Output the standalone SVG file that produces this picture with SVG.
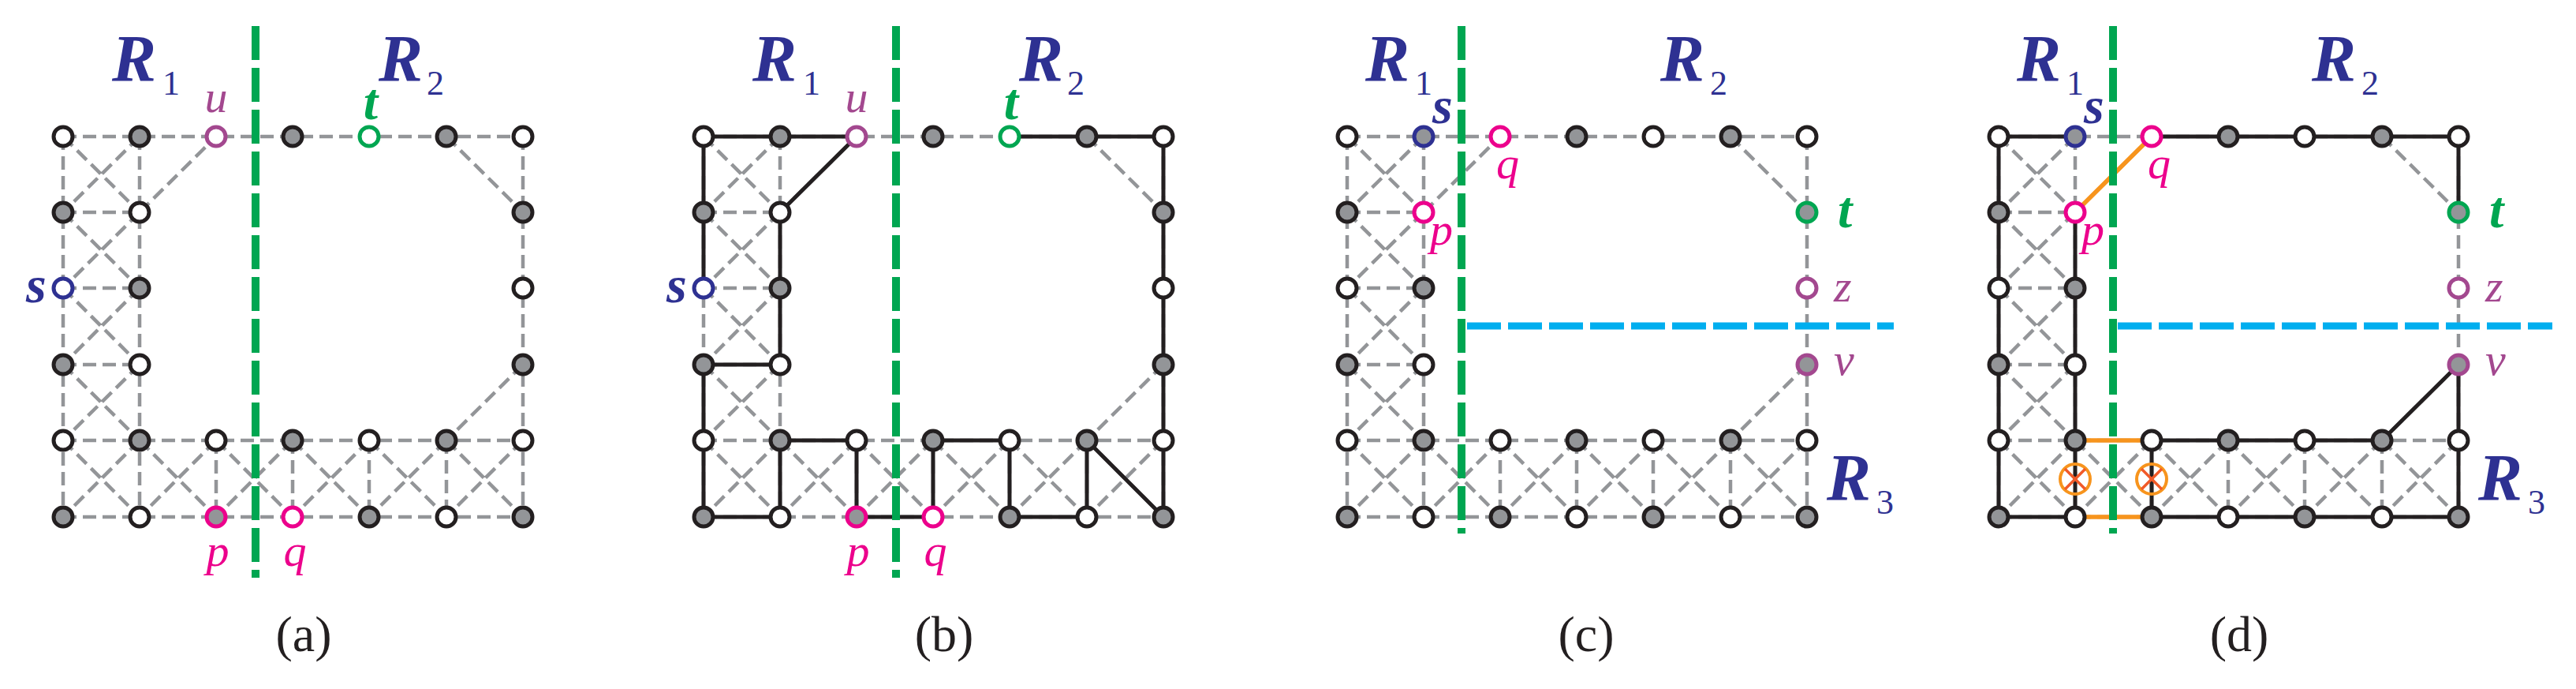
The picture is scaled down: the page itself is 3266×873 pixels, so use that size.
<svg xmlns="http://www.w3.org/2000/svg" xmlns:xlink="http://www.w3.org/1999/xlink" width="3266" height="873" viewBox="0 0 3266 873">
<style>
.gr{fill:none;stroke:#939598;stroke-width:4.5;stroke-dasharray:17 8}
.bk{fill:none;stroke:#231f20;stroke-width:5}
.or{fill:none;stroke:#f7941d;stroke-width:5.5}
.gl{stroke:#00a651;stroke-width:10;stroke-dasharray:43 10}
.bl{stroke:#00aeef;stroke-width:9;stroke-dasharray:43 9}
.w{fill:#fff;stroke:#231f20;stroke-width:5}
.g{fill:#939598;stroke:#231f20;stroke-width:5}
text{font-family:'Liberation Serif','Times New Roman','DejaVu Serif',serif}
.R{font-weight:bold;font-style:italic;font-size:84px;fill:#2e3192}
.sub{font-size:44px;fill:#2e3192}
.lab{font-style:italic;font-size:58px}
.lb{font-style:italic;font-weight:bold;font-size:66px}
.cap{font-size:64px;fill:#231f20;text-anchor:middle}
</style>
<defs>
<path id="base" class="gr" d="M80 173H663 M80 269H177 M80 365H177 M80 462H177 M80 558H663 M80 655H663 M80 173V655 M177 173V655 M663 173V655 M274 558V655 M371 558V655 M468 558V655 M566 558V655 M80 173L177 269 M177 173L80 269 M80 269L177 365 M177 269L80 365 M80 365L177 462 M177 365L80 462 M80 462L177 558 M177 462L80 558 M80 558L177 655 M177 558L80 655 M177 558L274 655 M274 558L177 655 M274 558L371 655 M371 558L274 655 M371 558L468 655 M468 558L371 655 M468 558L566 655 M566 558L468 655 M566 558L663 655 M663 558L566 655 M177 269L274 173 M566 173L663 269 M663 462L566 558"/>
<g id="otimes"><circle r="19" fill="none" stroke="#f7941d" stroke-width="4"/><path d="M-13 -13L13 13M13 -13L-13 13" stroke="#f15a29" stroke-width="3.5"/></g>
</defs>

<g id="connectors">
<g transform="translate(0,0)"><use xlink:href="#base"/></g>
<g transform="translate(812,0)"><use xlink:href="#base"/>
<path class="bk" d="M80 173H274L177 269 M468 173H663 M80 173V365 M80 462V655 M177 269V462 M80 462H177 M177 558V655 M177 558H274 M371 558H468 M80 655H177 M274 655H371 M468 655H566 M274 558V655 M371 558V655 M468 558V655 M566 558V655 M566 558L663 655 M663 173V655"/></g>
<g transform="translate(1628,0)"><use xlink:href="#base"/></g>
<g transform="translate(2454,0)"><use xlink:href="#base"/>
<path class="bk" d="M80 173H177 M274 173H663 M80 173V655 M177 269V655 M274 558V655 M274 558H566 M274 655H663 M80 655H177 M663 173V269 M663 462V655 M663 462L566 558"/>
<path class="or" d="M177 269L274 173 M177 558H274 M177 655H274"/></g>
</g>

<g id="dividers">
<line class="gl" x1="324" y1="33" x2="324" y2="732"/>
<line class="gl" x1="1136" y1="33" x2="1136" y2="732"/>
<line class="gl" x1="1853" y1="33" x2="1853" y2="676"/>
<line class="bl" x1="1860" y1="413" x2="2401" y2="413"/>
<line class="gl" x1="2679" y1="33" x2="2679" y2="676"/>
<line class="bl" x1="2685" y1="413" x2="3236" y2="413"/>
</g>

<g id="panel-a">
<circle class="w" cx="80" cy="173" r="12"/><circle class="g" cx="177" cy="173" r="12"/><circle class="w" style="stroke:#a3488f" cx="274" cy="173" r="12"/><circle class="g" cx="371" cy="173" r="12"/><circle class="w" style="stroke:#00a651" cx="468" cy="173" r="12"/><circle class="g" cx="566" cy="173" r="12"/><circle class="w" cx="663" cy="173" r="12"/>
<circle class="g" cx="80" cy="269" r="12"/><circle class="w" cx="177" cy="269" r="12"/><circle class="g" cx="663" cy="269" r="12"/>
<circle class="w" style="stroke:#2e3192" cx="80" cy="365" r="12"/><circle class="g" cx="177" cy="365" r="12"/><circle class="w" cx="663" cy="365" r="12"/>
<circle class="g" cx="80" cy="462" r="12"/><circle class="w" cx="177" cy="462" r="12"/><circle class="g" cx="663" cy="462" r="12"/>
<circle class="w" cx="80" cy="558" r="12"/><circle class="g" cx="177" cy="558" r="12"/><circle class="w" cx="274" cy="558" r="12"/><circle class="g" cx="371" cy="558" r="12"/><circle class="w" cx="468" cy="558" r="12"/><circle class="g" cx="566" cy="558" r="12"/><circle class="w" cx="663" cy="558" r="12"/>
<circle class="g" cx="80" cy="655" r="12"/><circle class="w" cx="177" cy="655" r="12"/><circle class="g" style="stroke:#ec008c" cx="274" cy="655" r="12"/><circle class="w" style="stroke:#ec008c" cx="371" cy="655" r="12"/><circle class="g" cx="468" cy="655" r="12"/><circle class="w" cx="566" cy="655" r="12"/><circle class="g" cx="663" cy="655" r="12"/>
<text class="R" x="142" y="103">R</text><text class="sub" x="206" y="120">1</text>
<text class="R" x="480" y="103">R</text><text class="sub" x="541" y="120">2</text>
<text class="lab" x="274" y="142" text-anchor="middle" fill="#a3488f">u</text>
<text class="lb" x="470" y="151" text-anchor="middle" fill="#00a651">t</text>
<text class="lb" x="33" y="383" fill="#2e3192">s</text>
<text class="lab" x="276" y="717" text-anchor="middle" fill="#ec008c">p</text>
<text class="lab" x="374" y="717" text-anchor="middle" fill="#ec008c">q</text>
<text class="cap" x="385" y="825">(a)</text>
</g>

<g id="panel-b" transform="translate(812,0)">
<circle class="w" cx="80" cy="173" r="12"/><circle class="g" cx="177" cy="173" r="12"/><circle class="w" style="stroke:#a3488f" cx="274" cy="173" r="12"/><circle class="g" cx="371" cy="173" r="12"/><circle class="w" style="stroke:#00a651" cx="468" cy="173" r="12"/><circle class="g" cx="566" cy="173" r="12"/><circle class="w" cx="663" cy="173" r="12"/>
<circle class="g" cx="80" cy="269" r="12"/><circle class="w" cx="177" cy="269" r="12"/><circle class="g" cx="663" cy="269" r="12"/>
<circle class="w" style="stroke:#2e3192" cx="80" cy="365" r="12"/><circle class="g" cx="177" cy="365" r="12"/><circle class="w" cx="663" cy="365" r="12"/>
<circle class="g" cx="80" cy="462" r="12"/><circle class="w" cx="177" cy="462" r="12"/><circle class="g" cx="663" cy="462" r="12"/>
<circle class="w" cx="80" cy="558" r="12"/><circle class="g" cx="177" cy="558" r="12"/><circle class="w" cx="274" cy="558" r="12"/><circle class="g" cx="371" cy="558" r="12"/><circle class="w" cx="468" cy="558" r="12"/><circle class="g" cx="566" cy="558" r="12"/><circle class="w" cx="663" cy="558" r="12"/>
<circle class="g" cx="80" cy="655" r="12"/><circle class="w" cx="177" cy="655" r="12"/><circle class="g" style="stroke:#ec008c" cx="274" cy="655" r="12"/><circle class="w" style="stroke:#ec008c" cx="371" cy="655" r="12"/><circle class="g" cx="468" cy="655" r="12"/><circle class="w" cx="566" cy="655" r="12"/><circle class="g" cx="663" cy="655" r="12"/>
<text class="R" x="142" y="103">R</text><text class="sub" x="206" y="120">1</text>
<text class="R" x="480" y="103">R</text><text class="sub" x="541" y="120">2</text>
<text class="lab" x="274" y="142" text-anchor="middle" fill="#a3488f">u</text>
<text class="lb" x="470" y="151" text-anchor="middle" fill="#00a651">t</text>
<text class="lb" x="33" y="383" fill="#2e3192">s</text>
<text class="lab" x="276" y="717" text-anchor="middle" fill="#ec008c">p</text>
<text class="lab" x="374" y="717" text-anchor="middle" fill="#ec008c">q</text>
<text class="cap" x="385" y="825">(b)</text>
</g>

<g id="panel-c" transform="translate(1628,0)">
<circle class="w" cx="80" cy="173" r="12"/><circle class="g" style="stroke:#2e3192" cx="177" cy="173" r="12"/><circle class="w" style="stroke:#ec008c" cx="274" cy="173" r="12"/><circle class="g" cx="371" cy="173" r="12"/><circle class="w" cx="468" cy="173" r="12"/><circle class="g" cx="566" cy="173" r="12"/><circle class="w" cx="663" cy="173" r="12"/>
<circle class="g" cx="80" cy="269" r="12"/><circle class="w" style="stroke:#ec008c" cx="177" cy="269" r="12"/><circle class="g" style="stroke:#00a651" cx="663" cy="269" r="12"/>
<circle class="w" cx="80" cy="365" r="12"/><circle class="g" cx="177" cy="365" r="12"/><circle class="w" style="stroke:#a3488f" cx="663" cy="365" r="12"/>
<circle class="g" cx="80" cy="462" r="12"/><circle class="w" cx="177" cy="462" r="12"/><circle class="g" style="stroke:#a3488f" cx="663" cy="462" r="12"/>
<circle class="w" cx="80" cy="558" r="12"/><circle class="g" cx="177" cy="558" r="12"/><circle class="w" cx="274" cy="558" r="12"/><circle class="g" cx="371" cy="558" r="12"/><circle class="w" cx="468" cy="558" r="12"/><circle class="g" cx="566" cy="558" r="12"/><circle class="w" cx="663" cy="558" r="12"/>
<circle class="g" cx="80" cy="655" r="12"/><circle class="w" cx="177" cy="655" r="12"/><circle class="g" cx="274" cy="655" r="12"/><circle class="w" cx="371" cy="655" r="12"/><circle class="g" cx="468" cy="655" r="12"/><circle class="w" cx="566" cy="655" r="12"/><circle class="g" cx="663" cy="655" r="12"/>
<text class="R" x="103" y="103">R</text><text class="sub" x="166" y="120">1</text>
<text class="R" x="477" y="103">R</text><text class="sub" x="540" y="120">2</text>
<text class="R" x="688" y="634">R</text><text class="sub" x="751" y="651">3</text>
<text class="lb" x="188" y="156" fill="#2e3192">s</text>
<text class="lab" x="269" y="226" fill="#ec008c">q</text>
<text class="lab" x="185" y="310" fill="#ec008c">p</text>
<text class="lb" x="702" y="288" fill="#00a651">t</text>
<text class="lab" x="697" y="382" fill="#a3488f">z</text>
<text class="lab" x="697" y="475" fill="#a3488f">v</text>
<text class="cap" x="383" y="825">(c)</text>
</g>

<g id="panel-d" transform="translate(2454,0)">
<circle class="w" cx="80" cy="173" r="12"/><circle class="g" style="stroke:#2e3192" cx="177" cy="173" r="12"/><circle class="w" style="stroke:#ec008c" cx="274" cy="173" r="12"/><circle class="g" cx="371" cy="173" r="12"/><circle class="w" cx="468" cy="173" r="12"/><circle class="g" cx="566" cy="173" r="12"/><circle class="w" cx="663" cy="173" r="12"/>
<circle class="g" cx="80" cy="269" r="12"/><circle class="w" style="stroke:#ec008c" cx="177" cy="269" r="12"/><circle class="g" style="stroke:#00a651" cx="663" cy="269" r="12"/>
<circle class="w" cx="80" cy="365" r="12"/><circle class="g" cx="177" cy="365" r="12"/><circle class="w" style="stroke:#a3488f" cx="663" cy="365" r="12"/>
<circle class="g" cx="80" cy="462" r="12"/><circle class="w" cx="177" cy="462" r="12"/><circle class="g" style="stroke:#a3488f" cx="663" cy="462" r="12"/>
<circle class="w" cx="80" cy="558" r="12"/><circle class="g" cx="177" cy="558" r="12"/><circle class="w" cx="274" cy="558" r="12"/><circle class="g" cx="371" cy="558" r="12"/><circle class="w" cx="468" cy="558" r="12"/><circle class="g" cx="566" cy="558" r="12"/><circle class="w" cx="663" cy="558" r="12"/>
<circle class="g" cx="80" cy="655" r="12"/><circle class="w" cx="177" cy="655" r="12"/><circle class="g" cx="274" cy="655" r="12"/><circle class="w" cx="371" cy="655" r="12"/><circle class="g" cx="468" cy="655" r="12"/><circle class="w" cx="566" cy="655" r="12"/><circle class="g" cx="663" cy="655" r="12"/>
<use xlink:href="#otimes" x="177" y="607"/><use xlink:href="#otimes" x="274" y="607"/>
<text class="R" x="103" y="103">R</text><text class="sub" x="166" y="120">1</text>
<text class="R" x="477" y="103">R</text><text class="sub" x="540" y="120">2</text>
<text class="R" x="688" y="634">R</text><text class="sub" x="751" y="651">3</text>
<text class="lb" x="188" y="156" fill="#2e3192">s</text>
<text class="lab" x="269" y="226" fill="#ec008c">q</text>
<text class="lab" x="185" y="310" fill="#ec008c">p</text>
<text class="lb" x="702" y="288" fill="#00a651">t</text>
<text class="lab" x="697" y="382" fill="#a3488f">z</text>
<text class="lab" x="697" y="475" fill="#a3488f">v</text>
<text class="cap" x="385" y="825">(d)</text>
</g>
</svg>
